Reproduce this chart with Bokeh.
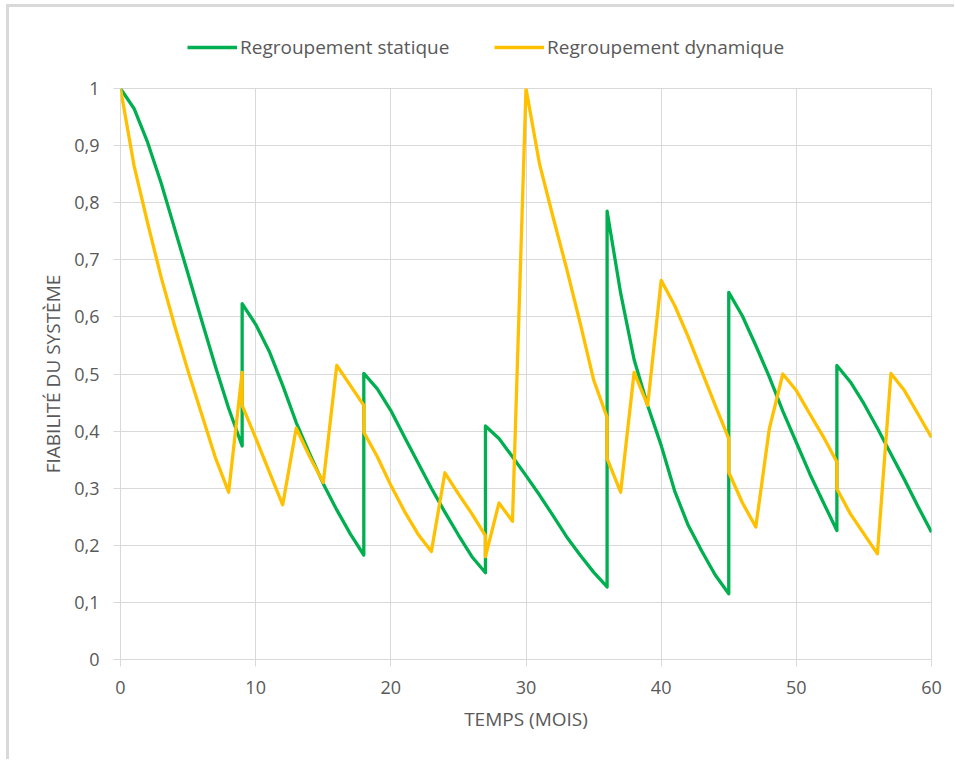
from bokeh.plotting import figure
from bokeh.layouts import column
from bokeh.models import (Legend, LegendItem, FixedTicker, CustomJSTickFormatter)
from bokeh.embed import file_html
from bokeh.resources import INLINE

# ---- data ----
static_t = [0, 1, 2, 3, 4, 5, 6, 7, 8, 9,
            9, 10, 11, 12, 13, 14, 15, 16, 17, 18,
            18, 19, 20, 21, 22, 23, 24, 25, 26, 27,
            27, 28, 29, 30, 31, 32, 33, 34, 35, 36,
            36, 37, 38, 39, 40, 41, 42, 43, 44, 45,
            45, 46, 47, 48, 49, 50, 51, 52, 53,
            53, 54, 55, 56, 57, 58, 59, 60]
static_v = [1.0, 0.965, 0.906, 0.835, 0.755, 0.675, 0.594, 0.515, 0.44, 0.374,
            0.623, 0.587, 0.54, 0.48, 0.415, 0.36, 0.308, 0.262, 0.22, 0.183,
            0.501, 0.474, 0.436, 0.39, 0.345, 0.30, 0.258, 0.218, 0.18, 0.152,
            0.409, 0.387, 0.355, 0.322, 0.288, 0.252, 0.215, 0.183, 0.153, 0.127,
            0.785, 0.642, 0.525, 0.445, 0.375, 0.295, 0.235, 0.19, 0.148, 0.115,
            0.643, 0.602, 0.55, 0.495, 0.435, 0.38, 0.325, 0.275, 0.226,
            0.515, 0.486, 0.448, 0.405, 0.36, 0.315, 0.268, 0.223]

dynamic_t = [0, 1, 2, 3, 4, 5, 6, 7, 8, 9,
             9, 10, 11, 12, 13, 14, 15, 16, 17, 18,
             18, 19, 20, 21, 22, 23, 24, 25, 26, 27,
             27, 28, 29, 30, 31, 32, 33, 34, 35, 36,
             36, 37, 38, 39, 40, 41, 42, 43, 44, 45,
             45, 46, 47, 48, 49, 50, 51, 52, 53,
             53, 54, 55, 56, 57, 58, 59, 60]
dynamic_v = [1.0, 0.865, 0.765, 0.67, 0.585, 0.505, 0.43, 0.355, 0.293, 0.503,
             0.445, 0.388, 0.329, 0.271, 0.405, 0.355, 0.31, 0.515, 0.48, 0.445,
             0.398, 0.355, 0.305, 0.26, 0.22, 0.189, 0.327, 0.29, 0.255, 0.217,
             0.18, 0.274, 0.242, 1.0, 0.868, 0.775, 0.685, 0.59, 0.49, 0.424,
             0.352, 0.293, 0.503, 0.445, 0.664, 0.62, 0.565, 0.505, 0.445, 0.387,
             0.328, 0.275, 0.232, 0.404, 0.5, 0.471, 0.43, 0.39, 0.346,
             0.299, 0.255, 0.22, 0.185, 0.501, 0.471, 0.43, 0.389]

series_names = ["Regroupement statique", "Regroupement dynamique"]
series_colors = ["#00B050", "#FFC000"]
x_ticks = [0, 10, 20, 30, 40, 50, 60]
y_ticks = [0, 0.1, 0.2, 0.3, 0.4, 0.5, 0.6, 0.7, 0.8, 0.9, 1.0]
x_title = "TEMPS (MOIS)"
y_title = "FIABILITÉ DU SYSTÈME"

FONT = "Open Sans"
TXT = "#595959"
GRID = "#d9d9d9"
W = 945
LEG_H = 60
MAIN_H = 692
LW = 3.3

# ---- main chart ----
p = figure(width=W, height=MAIN_H, output_backend="svg", toolbar_location=None,
           x_range=(0, 60), y_range=(0, 1),
           min_border_left=111, min_border_right=23,
           min_border_top=21, min_border_bottom=100)
p.outline_line_color = GRID
p.outline_line_width = 1

for ax in (p.xaxis[0], p.yaxis[0]):
    ax.axis_line_color = None
    ax.major_tick_line_color = GRID
    ax.major_tick_out = 7
    ax.major_tick_in = 0
    ax.minor_tick_line_color = None
    ax.major_label_text_font = FONT
    ax.major_label_text_font_size = "18px"
    ax.major_label_text_color = TXT
    ax.axis_label_text_font = FONT
    ax.axis_label_text_font_size = "19px"
    ax.axis_label_text_font_style = "normal"
    ax.axis_label_text_color = TXT

p.xaxis.ticker = FixedTicker(ticks=x_ticks)
p.yaxis.ticker = FixedTicker(ticks=y_ticks)
p.yaxis.formatter = CustomJSTickFormatter(
    code="return (Math.round(tick*10)/10).toString().replace('.', ',');")
p.xaxis.major_label_standoff = 14
p.yaxis.major_label_standoff = 14
p.xaxis.axis_label = x_title
p.yaxis.axis_label = y_title
p.xaxis.axis_label_standoff = 9
p.yaxis.axis_label_standoff = 5

p.xgrid.grid_line_color = GRID
p.ygrid.grid_line_color = GRID

p.line(static_t, static_v, line_color=series_colors[0], line_width=LW,
       line_join="round")
p.line(dynamic_t, dynamic_v, line_color=series_colors[1], line_width=LW,
       line_join="round")

# ---- legend strip (its frame is aligned with the chart's frame) ----
lg = figure(width=W, height=LEG_H, output_backend="svg", toolbar_location=None,
            x_range=(-2, -1), y_range=(-2, -1),
            x_axis_location=None, y_axis_location=None, min_border=0)
lg.outline_line_color = None
lg.grid.visible = False
items = []
for name, col, xs, ys in zip(series_names, series_colors,
                             (static_t, dynamic_t), (static_v, dynamic_v)):
    # same series, out of this strip's view: only the legend sample shows
    r = lg.line(xs, ys, line_color=col, line_width=LW)
    items.append(LegendItem(label=name, renderers=[r]))
legend = Legend(items=items, orientation="horizontal", location=(67, 7),
                border_line_color=None, background_fill_alpha=0,
                padding=0, margin=0, spacing=9,
                glyph_width=50, glyph_height=20,
                label_width=245, label_height=20, label_standoff=3,
                label_text_font=FONT, label_text_font_size="19px",
                label_text_color=TXT)
lg.add_layout(legend, "center")

layout = column(lg, p, spacing=0)
layout.styles = {"border-left": "3px solid #d9d9d9", "border-top": "3px solid #d9d9d9",
                 "margin-left": "6px", "margin-top": "4px"}

open("out.html", "w").write(file_html(layout, INLINE))
